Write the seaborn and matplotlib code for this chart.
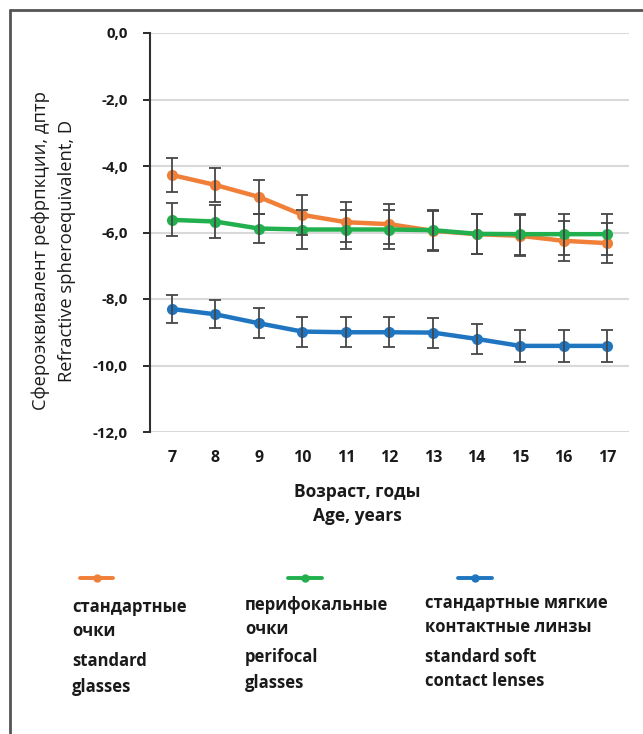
import matplotlib
matplotlib.use("Agg")
import matplotlib.pyplot as plt
from matplotlib.lines import Line2D
import numpy as np
import pandas as pd
import seaborn as sns

# Age groups (years)
ages = [7, 8, 9, 10, 11, 12, 13, 14, 15, 16, 17]

# Mean spherical equivalent (D) and its spread for each correction group
standard_glasses = [-4.27, -4.57, -4.93, -5.47, -5.69, -5.75, -5.95, -6.05, -6.10, -6.25, -6.32]
standard_glasses_err = [0.50, 0.52, 0.50, 0.60, 0.60, 0.60, 0.60, 0.60, 0.62, 0.60, 0.60]

perifocal_glasses = [-5.62, -5.67, -5.88, -5.91, -5.91, -5.91, -5.93, -6.04, -6.05, -6.05, -6.05]
perifocal_glasses_err = [0.50, 0.50, 0.45, 0.58, 0.58, 0.58, 0.60, 0.60, 0.62, 0.62, 0.62]

soft_lenses = [-8.30, -8.46, -8.73, -8.98, -9.00, -9.00, -9.01, -9.20, -9.41, -9.41, -9.41]
soft_lenses_err = [0.42, 0.42, 0.45, 0.45, 0.45, 0.45, 0.45, 0.45, 0.47, 0.47, 0.47]

group_labels = ["standard", "perifocal", "soft"]
legend_lines = [
    ["стандартные", "очки", "standard", "glasses"],
    ["перифокальные", "очки", "perifocal", "glasses"],
    ["стандартные мягкие", "контактные линзы", "standard soft", "contact lenses"],
]
colors = ["#F07F38", "#22B04E", "#2075C0"]
y_ticks = [0, -2, -4, -6, -8, -10, -12]

df = pd.concat([
    pd.DataFrame({"age": ages, "se": vals, "err": errs, "group": g})
    for g, vals, errs in zip(group_labels,
                             [standard_glasses, perifocal_glasses, soft_lenses],
                             [standard_glasses_err, perifocal_glasses_err, soft_lenses_err])
], ignore_index=True)

sns.set_theme(style="white")
plt.rcParams["font.family"] = ["Open Sans", "DejaVu Sans"]

W, H = 643, 734
fig = plt.figure(figsize=(W / 100, H / 100), dpi=100)
ax = fig.add_axes([150 / W, 1 - 432 / H, (629 - 150) / W, (432 - 33) / H])

# grid lines behind the data
for t in y_ticks:
    ax.axhline(t, color="#d9d9d9", lw=1.5, zorder=0)

sns.lineplot(data=df, x="age", y="se", hue="group", hue_order=group_labels,
             palette=colors, marker="o", markersize=8, markeredgewidth=0,
             linewidth=3.2, legend=False, ax=ax, zorder=2)

# standard deviation whiskers
for g in group_labels:
    sub = df[df["group"] == g]
    ax.errorbar(sub["age"], sub["se"], yerr=sub["err"], fmt="none",
                ecolor="#474747", elinewidth=1.3, capsize=4, capthick=1.3, zorder=3)

ax.set_xlim(6.5, 17.5)
ax.set_ylim(-12, 0)
ax.set_xticks(ages)
ax.set_xticklabels([str(a) for a in ages], fontsize=11.5, fontweight="bold")
ax.set_yticks(y_ticks)
ax.set_yticklabels([f"{t:.1f}".replace(".", ",") for t in y_ticks],
                   fontsize=10.8, fontweight="bold")
ax.tick_params(axis="x", length=0, pad=13, colors="#1a1a1a")
ax.tick_params(axis="y", direction="out", length=5, width=1.3, pad=11,
               left=True, colors="#1a1a1a")
ax.set_xlabel("")
ax.set_ylabel("")
for s in ["top", "right", "bottom"]:
    ax.spines[s].set_visible(False)
ax.spines["left"].set_color("#303030")
ax.spines["left"].set_linewidth(1.5)

# axis titles
fig.text(41 / W, 1 - 251 / H, "Сфероэквивалент рефрпкции, дптр",
         rotation=90, ha="center", va="center", fontsize=13.2, color="#1a1a1a")
fig.text(67 / W, 1 - 251 / H, "Refractive spheroequivalent, D",
         rotation=90, ha="center", va="center", fontsize=13.2, color="#1a1a1a")
fig.text(357 / W, 1 - 492 / H, "Возраст, годы", ha="center", va="center",
         fontsize=12.5, fontweight="bold", color="#1a1a1a")
fig.text(357 / W, 1 - 516 / H, "Age, years", ha="center", va="center",
         fontsize=12.5, fontweight="bold", color="#1a1a1a")

# legend
sample_x = [(80, 113), (288, 322), (458, 492)]
text_x = [72, 245, 425]
baselines = [
    [611.5, 636.5, 666.5, 692.5],
    [609.5, 634.5, 662.5, 687.5],
    [607.5, 632.5, 661.5, 685.5],
]
for (x0, x1), tx, c, lines, ys in zip(sample_x, text_x, colors, legend_lines, baselines):
    fig.add_artist(Line2D([x0 / W, x1 / W], [1 - 578 / H] * 2, color=c, lw=2.8))
    fig.add_artist(Line2D([(x0 + x1) / 2 / W], [1 - 578 / H], color=c,
                          marker="o", markersize=6, markeredgewidth=0))
    for txt, y in zip(lines, ys):
        fig.text(tx / W, 1 - y / H, txt, ha="left", va="baseline", fontsize=12,
                 fontweight="bold", color="#1a1a1a")

# outer frame (left and top edges)
fig.add_artist(Line2D([9.5 / W, 9.5 / W], [1 - 9.5 / H, 0], color="#555555", lw=2))
fig.add_artist(Line2D([9.5 / W, 1], [1 - 9.5 / H, 1 - 9.5 / H], color="#555555", lw=2))

fig.savefig("out.png", dpi=100)
